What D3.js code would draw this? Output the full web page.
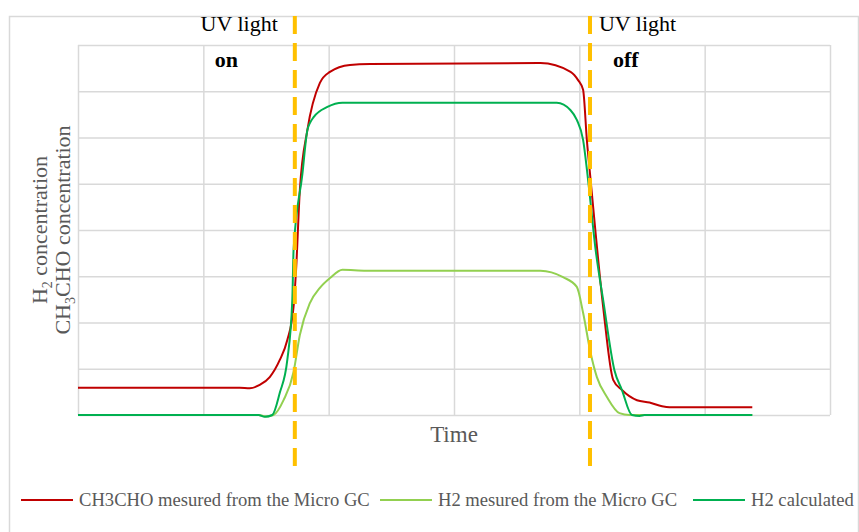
<!DOCTYPE html>
<html>
<head>
<meta charset="utf-8">
<script src="https://cdn.jsdelivr.net/npm/d3@7"></script>
<style>
  body { margin: 0; background: #fff; }
  text { font-family: "Liberation Serif", "Times New Roman", serif; }
</style>
</head>
<body>
<div id="chart"></div>
<script>
// time (arbitrary units, 6 grid steps of 10) and concentration (8 grid steps)
var xTicks = [0, 10, 20, 30, 40, 50, 60];
var yTicks = [0, 1, 2, 3, 4, 5, 6, 7, 8];

var ch3choMeasured = [
  [0, 0.59], [12.9, 0.59], [13.7, 0.58], [14.5, 0.65], [15.3, 0.82], [16.1, 1.19],
  [16.7, 1.62], [17.2, 2.34], [17.4, 3.14], [17.7, 4.86], [18.3, 6.16], [19.3, 7.18],
  [20.1, 7.42], [21.7, 7.57], [23.3, 7.59], [36.9, 7.61], [39.3, 7.42], [39.9, 7.24],
  [40.3, 7.03], [40.6, 5.95], [40.9, 5.08], [41.9, 2.34], [42.7, 0.76], [43.4, 0.54],
  [44.6, 0.32], [45.6, 0.27], [46.6, 0.19], [47.2, 0.17], [53.8, 0.17]
];

var h2Measured = [
  [0, 0], [14.4, 0], [15.0, -0.03], [15.6, 0], [16.4, 0.32], [17.2, 0.93],
  [17.7, 1.73], [18.5, 2.42], [19.3, 2.75], [20.1, 2.96], [21.1, 3.14], [23.0, 3.12],
  [36.9, 3.12], [38.7, 2.98], [39.8, 2.77], [40.3, 2.21], [40.9, 1.34], [41.4, 0.82],
  [42.2, 0.39], [43.2, 0.04], [44.0, 0], [53.8, 0]
];

var h2Calculated = [
  [0, 0], [14.4, 0], [14.9, -0.04], [15.5, 0], [16.1, 0.48], [16.7, 1.19],
  [17.1, 2.49], [17.2, 3.57], [17.9, 5.2], [18.3, 6.16], [18.5, 6.31], [18.8, 6.44],
  [19.9, 6.66], [21.1, 6.75], [38.2, 6.75], [39.3, 6.59], [39.8, 6.38], [40.3, 5.95],
  [40.7, 5.08], [41.3, 3.57], [41.9, 2.49], [42.8, 0.97], [43.4, 0.54], [44.2, 0],
  [44.8, -0.02], [45.2, 0], [53.8, 0]
];

var seriesNames = ["CH3CHO mesured from the Micro GC", "H2 mesured from the Micro GC", "H2 calculated"];
var seriesColors = ["#C00000", "#92D050", "#00B050"];
var uvEvents = [17.3, 40.85];
var uvLabels = ["on", "off"];

var svgWidth = 859;
var svgHeight = 532;

var margin = { top: 45, right: 29, bottom: 117, left: 78 };
var width = svgWidth - margin.left - margin.right;
var height = svgHeight - margin.top - margin.bottom;

var svg = d3.select("#chart")
  .append("svg")
  .attr("width", svgWidth)
  .attr("height", svgHeight);

// outer chart frame
svg.append("rect")
  .attr("x", 9.5)
  .attr("y", 16.5)
  .attr("width", 849)
  .attr("height", 540)
  .attr("fill", "none")
  .attr("stroke", "#D9D9D9")
  .attr("stroke-width", 1.5);

var chartGroup = svg.append("g")
  .attr("transform", `translate(${margin.left}, ${margin.top})`);

var xScale = d3.scaleLinear().domain([0, 60]).range([0, width]);
var yScale = d3.scaleLinear().domain([0, 8]).range([height, 0]);

// gridlines
var yGrid = chartGroup.append("g")
  .call(d3.axisLeft(yScale).tickValues(yTicks).tickSize(-width).tickFormat(""));
var xGrid = chartGroup.append("g")
  .attr("transform", `translate(0, ${height})`)
  .call(d3.axisBottom(xScale).tickValues(xTicks).tickSize(-height).tickFormat(""));

[xGrid, yGrid].forEach(function(g) {
  g.select(".domain").remove();
  g.selectAll("line").attr("stroke", "#D9D9D9").attr("stroke-width", 1.5);
});

// series lines
var line = d3.line()
  .x(d => xScale(d[0]))
  .y(d => yScale(d[1]))
  .curve(d3.curveMonotoneX);

[ch3choMeasured, h2Measured, h2Calculated].forEach(function(data, i) {
  chartGroup.append("path")
    .datum(data)
    .attr("fill", "none")
    .attr("stroke", seriesColors[i])
    .attr("stroke-width", 2)
    .attr("d", line);
});

// UV light markers
uvEvents.forEach(function(t, i) {
  var x = xScale(t);
  chartGroup.append("line")
    .attr("x1", x).attr("x2", x)
    .attr("y1", 16 - margin.top).attr("y2", 470 - margin.top)
    .attr("stroke", "#FFC000")
    .attr("stroke-width", 4)
    .attr("stroke-dasharray", "18,9");

  chartGroup.append("text")
    .attr("x", i === 0 ? x - 17 : x + 9)
    .attr("y", 31 - margin.top)
    .attr("text-anchor", i === 0 ? "end" : "start")
    .attr("font-size", "22px")
    .attr("fill", "#000")
    .text("UV light");

  chartGroup.append("text")
    .attr("x", i === 0 ? x - 80 : x + 23)
    .attr("y", 67 - margin.top)
    .attr("font-size", "22px")
    .attr("font-weight", "bold")
    .attr("fill", "#000")
    .text(uvLabels[i]);
});

// axis titles
chartGroup.append("text")
  .attr("x", width / 2)
  .attr("y", height + 27)
  .attr("text-anchor", "middle")
  .attr("font-size", "23px")
  .attr("fill", "#595959")
  .text("Time");

var yLabel = svg.append("g")
  .attr("transform", "translate(0, 230)");

var line1 = yLabel.append("text")
  .attr("transform", "translate(47, 0) rotate(-90)")
  .attr("text-anchor", "middle")
  .attr("font-size", "22px")
  .attr("fill", "#595959");
line1.append("tspan").text("H");
line1.append("tspan").attr("font-size", "14px").attr("dy", 5).text("2");
line1.append("tspan").attr("dy", -5).text(" concentration");

var line2 = yLabel.append("text")
  .attr("transform", "translate(70, 0) rotate(-90)")
  .attr("text-anchor", "middle")
  .attr("font-size", "22px")
  .attr("fill", "#595959");
line2.append("tspan").text("CH");
line2.append("tspan").attr("font-size", "14px").attr("dy", 5).text("3");
line2.append("tspan").attr("dy", -5).text("CHO concentration");

// legend
var legendX = [21, 380, 693];
var legend = svg.append("g").attr("transform", "translate(0, 500)");
seriesNames.forEach(function(name, i) {
  legend.append("line")
    .attr("x1", legendX[i]).attr("x2", legendX[i] + 52)
    .attr("y1", 0).attr("y2", 0)
    .attr("stroke", seriesColors[i])
    .attr("stroke-width", 2);
  legend.append("text")
    .attr("x", legendX[i] + 58)
    .attr("y", 6)
    .attr("font-size", "18.6px")
    .attr("fill", "#595959")
    .text(name);
});
</script>
</body>
</html>
